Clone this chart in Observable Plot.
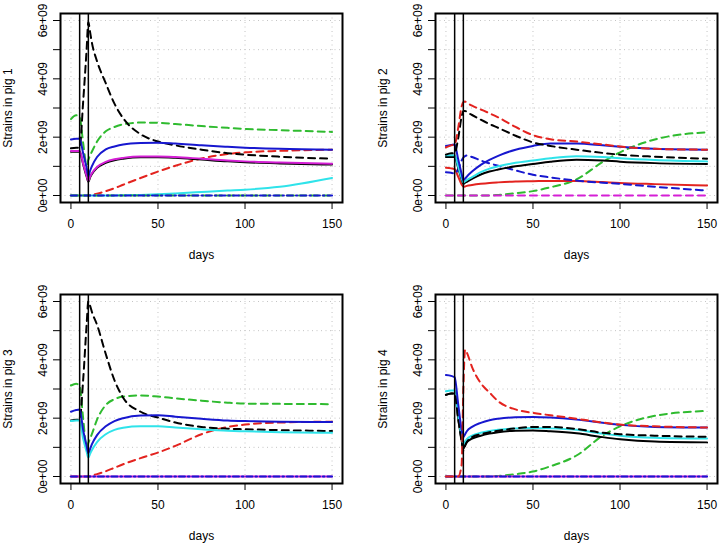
<!DOCTYPE html>
<html>
<head>
<meta charset="utf-8">
<script src="https://cdn.jsdelivr.net/npm/d3@7"></script>
<script src="https://cdn.jsdelivr.net/npm/@observablehq/plot@0.6"></script>
<style>
  body { margin: 0; background: #fff; }
  #chart { position: relative; width: 721px; height: 545px; background: #fff; overflow: hidden; }
  #chart svg { position: absolute; }
</style>
</head>
<body>
<div id="chart"></div>
<script>
// ---------- data (values in units of 1e9 strains) ----------
const days = [0, 3, 5, 7, 9, 10, 11, 12, 15, 20, 25, 30, 40, 50, 60, 75, 90, 100, 120, 150];
const xTicks = [0, 50, 100, 150];
const yTicks = [0, 1, 2, 3, 4, 5, 6];
const yLabelValues = [0, 2, 4, 6];
const yTickLabels = ["0e+00", "2e+09", "4e+09", "6e+09"];
const treatmentDays = [5, 10];
const xLabel = "days";
const panelTitles = ["Strains in pig 1", "Strains in pig 2", "Strains in pig 3", "Strains in pig 4"];
const zeros = [0, 0, 0, 0, 0, 0, 0, 0, 0, 0, 0, 0, 0, 0, 0, 0, 0, 0, 0, 0];

// pig 1
const pig1BlueSolid    = [1.92, 1.95, 1.95, 1.45, 0.95, 0.66, 0.85, 1.00, 1.32, 1.58, 1.68, 1.75, 1.80, 1.81, 1.78, 1.72, 1.67, 1.64, 1.60, 1.57];
const pig1MagentaSolid = [1.53, 1.53, 1.53, 1.10, 0.68, 0.50, 0.65, 0.76, 0.98, 1.15, 1.24, 1.29, 1.34, 1.34, 1.32, 1.26, 1.20, 1.17, 1.13, 1.09];
const pig1BlackSolid   = [1.50, 1.50, 1.50, 1.07, 0.65, 0.47, 0.62, 0.73, 0.95, 1.12, 1.21, 1.26, 1.31, 1.31, 1.29, 1.23, 1.17, 1.14, 1.10, 1.06];
const pig1BlackDashed  = [1.62, 1.64, 1.64, 3.20, 5.00, 5.95, 5.60, 5.25, 4.60, 3.85, 3.15, 2.65, 2.10, 1.85, 1.72, 1.57, 1.45, 1.40, 1.33, 1.26];
const pig1GreenDashed  = [2.62, 2.75, 2.70, 1.80, 1.05, 1.22, 1.38, 1.50, 1.85, 2.20, 2.35, 2.44, 2.50, 2.49, 2.45, 2.38, 2.32, 2.28, 2.24, 2.18];
const pig1RedDashed    = [0, 0, 0, 0, 0, 0, 0.01, 0.02, 0.06, 0.15, 0.25, 0.37, 0.60, 0.82, 1.02, 1.27, 1.42, 1.48, 1.53, 1.57];
const pig1CyanSolid    = [0, 0, 0, 0, 0, 0, 0, 0, 0, 0, 0, 0.01, 0.02, 0.04, 0.07, 0.12, 0.17, 0.20, 0.30, 0.60];

// pig 2
const pig2RedDashed    = [1.65, 1.72, 1.75, 2.30, 3.05, 3.20, 3.22, 3.18, 3.08, 2.95, 2.82, 2.68, 2.35, 2.07, 1.93, 1.85, 1.75, 1.68, 1.60, 1.57];
const pig2BlackDashed  = [1.40, 1.45, 1.45, 1.95, 2.70, 2.90, 2.90, 2.86, 2.76, 2.60, 2.45, 2.32, 2.05, 1.82, 1.70, 1.57, 1.46, 1.40, 1.33, 1.26];
const pig2BlueSolid    = [1.70, 1.73, 1.75, 1.25, 0.75, 0.52, 0.58, 0.65, 0.82, 1.05, 1.22, 1.36, 1.57, 1.70, 1.78, 1.78, 1.72, 1.67, 1.60, 1.57];
const pig2CyanSolid    = [1.38, 1.38, 1.38, 1.00, 0.60, 0.45, 0.49, 0.53, 0.63, 0.80, 0.92, 1.00, 1.12, 1.20, 1.28, 1.35, 1.32, 1.28, 1.22, 1.17];
const pig2BlackSolid   = [1.32, 1.32, 1.32, 0.95, 0.55, 0.40, 0.44, 0.47, 0.57, 0.72, 0.82, 0.89, 1.00, 1.08, 1.16, 1.23, 1.20, 1.16, 1.11, 1.08];
const pig2BlueDashed   = [0.80, 0.78, 0.75, 0.90, 1.20, 1.30, 1.35, 1.37, 1.32, 1.20, 1.10, 1.02, 0.86, 0.71, 0.62, 0.51, 0.44, 0.40, 0.30, 0.17];
const pig2RedSolid     = [0.95, 0.93, 0.90, 0.65, 0.38, 0.30, 0.31, 0.33, 0.36, 0.40, 0.43, 0.45, 0.48, 0.49, 0.50, 0.50, 0.46, 0.43, 0.39, 0.34];
const pig2GreenDashed  = [0, 0, 0, 0, 0, 0, 0, 0, 0, 0, 0, 0.02, 0.08, 0.15, 0.28, 0.55, 1.15, 1.48, 1.92, 2.17];

// pig 3
const pig3BlackDashed  = [1.92, 1.95, 1.95, 3.30, 5.20, 6.00, 5.85, 5.65, 5.20, 4.20, 3.30, 2.70, 2.22, 2.02, 1.85, 1.70, 1.64, 1.62, 1.59, 1.56];
const pig3GreenDashed  = [3.12, 3.18, 3.10, 2.00, 1.00, 1.15, 1.30, 1.45, 1.95, 2.45, 2.65, 2.74, 2.78, 2.74, 2.68, 2.60, 2.53, 2.50, 2.49, 2.48];
const pig3BlueSolid    = [2.22, 2.28, 2.30, 1.60, 1.05, 0.80, 0.95, 1.10, 1.42, 1.72, 1.90, 2.00, 2.09, 2.10, 2.05, 1.98, 1.92, 1.90, 1.88, 1.87];
const pig3CyanSolid    = [1.90, 1.92, 1.92, 1.30, 0.85, 0.65, 0.78, 0.90, 1.18, 1.45, 1.60, 1.67, 1.72, 1.72, 1.68, 1.62, 1.57, 1.55, 1.52, 1.50];
const pig3RedDashed    = [0, 0, 0, 0, 0, 0, 0.01, 0.03, 0.08, 0.18, 0.30, 0.42, 0.63, 0.82, 1.05, 1.45, 1.70, 1.78, 1.85, 1.88];

// pig 4
const pig4BlueSolid    = [3.48, 3.45, 3.40, 2.50, 1.60, 1.35, 1.45, 1.55, 1.70, 1.84, 1.93, 1.98, 2.03, 2.04, 2.02, 1.95, 1.84, 1.77, 1.70, 1.68];
const pig4RedDashed    = [0, 0, 0, 0, 0.40, 3.00, 4.35, 4.25, 3.75, 3.20, 2.88, 2.58, 2.30, 2.18, 2.10, 1.98, 1.85, 1.78, 1.72, 1.68];
const pig4CyanSolid    = [2.92, 2.95, 2.95, 2.10, 1.35, 1.10, 1.20, 1.28, 1.40, 1.50, 1.56, 1.60, 1.65, 1.66, 1.65, 1.60, 1.47, 1.40, 1.33, 1.30];
const pig4BlackSolid   = [2.80, 2.85, 2.85, 2.00, 1.25, 0.95, 1.08, 1.18, 1.30, 1.40, 1.47, 1.52, 1.57, 1.58, 1.55, 1.48, 1.35, 1.28, 1.20, 1.17];
const pig4BlackDashed  = [2.80, 2.85, 2.85, 2.00, 1.20, 0.88, 1.05, 1.18, 1.35, 1.45, 1.52, 1.57, 1.65, 1.70, 1.70, 1.63, 1.50, 1.45, 1.40, 1.36];
const pig4GreenDashed  = [0, 0, 0, 0, 0, 0, 0, 0, 0, 0, 0, 0.02, 0.08, 0.17, 0.35, 0.72, 1.40, 1.72, 2.08, 2.25];

// ---------- styles ----------
const col = {
  black: "#000000", red: "#e3231f", green: "#2fbb2f", blue: "#1717cf",
  cyan: "#2fe3ea", magenta: "#d51fd5"
};
const SOLID = null, DASH = "7,5", DOTDASH = "6,3,1.5,3";

const panels = [
  { title: panelTitles[0], left: 0, top: 0, width: 360, height: 272, mt: 13, mb: 70, ml: 60, mr: 18,
    series: [
      [pig1RedDashed, col.red, DASH],
      [pig1CyanSolid, col.cyan, SOLID],
      [zeros, col.green, DASH],
      [zeros, col.blue, DOTDASH],
      [pig1GreenDashed, col.green, DASH],
      [pig1BlackDashed, col.black, DASH],
      [pig1BlackSolid, col.black, SOLID],
      [pig1MagentaSolid, col.magenta, SOLID],
      [pig1BlueSolid, col.blue, SOLID]
    ]},
  { title: panelTitles[1], left: 360, top: 0, width: 361, height: 272, mt: 13, mb: 70, ml: 75, mr: 4,
    series: [
      [pig2GreenDashed, col.green, DASH],
      [zeros, col.magenta, DASH],
      [pig2RedSolid, col.red, SOLID],
      [pig2BlueDashed, col.blue, DASH],
      [pig2BlackSolid, col.black, SOLID],
      [pig2CyanSolid, col.cyan, SOLID],
      [pig2BlueSolid, col.blue, SOLID],
      [pig2BlackDashed, col.black, DASH],
      [pig2RedDashed, col.red, DASH]
    ]},
  { title: panelTitles[2], left: 0, top: 272, width: 360, height: 273, mt: 22, mb: 62, ml: 60, mr: 18,
    series: [
      [pig3RedDashed, col.red, DASH],
      [zeros, col.magenta, SOLID],
      [zeros, col.blue, DOTDASH],
      [pig3GreenDashed, col.green, DASH],
      [pig3BlackDashed, col.black, DASH],
      [pig3CyanSolid, col.cyan, SOLID],
      [pig3BlueSolid, col.blue, SOLID]
    ]},
  { title: panelTitles[3], left: 360, top: 272, width: 361, height: 273, mt: 22, mb: 62, ml: 75, mr: 4,
    series: [
      [pig4GreenDashed, col.green, DASH],
      [zeros, col.magenta, SOLID],
      [zeros, col.blue, DOTDASH],
      [pig4BlackSolid, col.black, SOLID],
      [pig4CyanSolid, col.cyan, SOLID],
      [pig4BlackDashed, col.black, DASH],
      [pig4BlueSolid, col.blue, SOLID],
      [pig4RedDashed, col.red, DASH]
    ]}
];

const FONT = "Liberation Sans, Arial, Helvetica, sans-serif";
const rows = (vals) => days.map((d, i) => ({ day: d, v: vals[i] }));
const chart = document.getElementById("chart");

for (const p of panels) {
  const svg = Plot.plot({
    width: p.width, height: p.height,
    marginTop: p.mt, marginBottom: p.mb, marginLeft: p.ml, marginRight: p.mr,
    style: { fontFamily: FONT, fontSize: "12px", background: "transparent", color: "black" },
    x: { domain: [-6, 156] },
    y: { domain: [-0.24, 6.24] },
    marks: [
      Plot.gridX(xTicks, { stroke: "#c4c4c4", strokeOpacity: 1, strokeDasharray: "1,3.5" }),
      Plot.gridY(yTicks, { stroke: "#c4c4c4", strokeOpacity: 1, strokeDasharray: "1,3.5" }),
      ...p.series.map(([vals, color, dash]) =>
        Plot.line(rows(vals), { x: "day", y: "v", stroke: color, strokeWidth: 2,
          strokeDasharray: dash, curve: "monotone-x" })),
      Plot.ruleX(treatmentDays, { stroke: "black", strokeWidth: 1.5 }),
      Plot.frame({ stroke: "black", strokeWidth: 2 }),
      Plot.axisX({ ticks: xTicks, tickSize: 7, tickFormat: () => "", label: null }),
      Plot.axisY({ ticks: yTicks, tickSize: 7, tickFormat: () => "", label: null }),
      Plot.text(xTicks, { x: (d) => d, text: (d) => String(d), frameAnchor: "bottom", dy: 22,
        lineAnchor: "middle", fontSize: 12, fontFamily: FONT }),
      Plot.text(yLabelValues, { y: (d) => d, text: (d, i) => yTickLabels[i], frameAnchor: "left",
        dx: -17.5, rotate: -90, textAnchor: "middle", lineAnchor: "middle", fontSize: 12, fontFamily: FONT }),
      Plot.text([p.title], { text: (d) => d, frameAnchor: "left", dx: -52.5, rotate: -90,
        textAnchor: "middle", lineAnchor: "middle", fontSize: 12, fontFamily: FONT }),
      Plot.text([xLabel], { text: (d) => d, frameAnchor: "bottom", dy: 52.5,
        textAnchor: "middle", lineAnchor: "middle", fontSize: 12, fontFamily: FONT })
    ]
  });
  svg.style.left = p.left + "px";
  svg.style.top = p.top + "px";
  chart.appendChild(svg);
}
</script>
</body>
</html>
